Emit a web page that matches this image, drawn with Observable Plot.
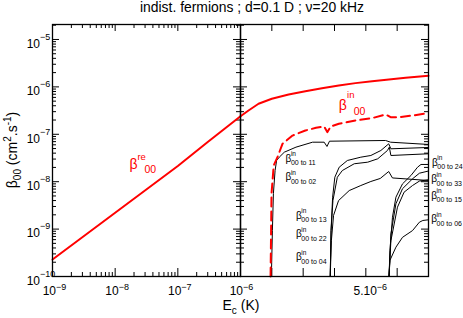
<!DOCTYPE html>
<html><head><meta charset="utf-8">
<script src="https://cdn.jsdelivr.net/npm/d3@7"></script>
<script src="https://cdn.jsdelivr.net/npm/@observablehq/plot@0.6"></script>
<style>
body{margin:0;background:#fff;font-family:"Liberation Sans",Arial,Helvetica,sans-serif;}
#wrap{position:relative;width:463px;height:318px;overflow:hidden;background:#fff;}
#wrap svg{position:absolute;top:0;}
.t{position:absolute;white-space:nowrap;color:#000;}
</style></head><body><div id="wrap"></div>
<script>
// ---------- data ----------
const titleText = "indist. fermions ; d=0.1 D ; ν=20 kHz";
// β^re_00, left (log) panel
const reE = [1e-9, 1e-8, 1e-7, 3e-7, 1e-6];
const reBeta = [2.28e-10, 2.22e-9, 2.15e-8, 6.9e-8, 2.4e-7];
// β^re_00, right (linear) panel
const re2E = [1.0e-6, 1.256e-6, 1.576e-6, 2.0e-6, 2.536e-6, 3.07e-6, 3.6e-6, 4.136e-6, 4.67e-6, 5.2e-6, 5.736e-6, 6.27e-6, 7.0e-6];
const re2Beta = [2.4e-7, 3.18e-7, 4.4e-7, 5.61e-7, 6.92e-7, 8.12e-7, 9.39e-7, 1.07e-6, 1.2e-6, 1.32e-6, 1.43e-6, 1.56e-6, 1.71e-6];
// β^in_00 (dashed)
const inE = [1.96e-6, 1.99e-6, 2.06e-6, 2.18e-6, 2.34e-6, 2.66e-6, 3.07e-6, 3.41e-6, 3.67e-6, 3.77e-6, 3.88e-6, 4.14e-6, 4.67e-6, 5.2e-6, 5.63e-6, 5.79e-6, 6.06e-6, 6.49e-6, 7.0e-6];
const inBeta = [1e-10, 5.6e-9, 2.2e-8, 3.29e-8, 6.3e-8, 9.4e-8, 1.2e-7, 1.37e-7, 1.46e-7, 1.11e-7, 1.46e-7, 1.67e-7, 1.96e-7, 2.19e-7, 2.62e-7, 2.3e-7, 2.3e-7, 2.49e-7, 2.79e-7];
// partial inelastic rates (black curves)
const c11E = [1.986e-6, 2.018e-6, 2.05e-6, 2.104e-6, 2.152e-6, 2.238e-6, 2.398e-6, 2.77e-6, 3.3e-6, 3.67e-6, 3.76e-6, 3.84e-6, 5.63e-6, 5.79e-6, 7.0e-6];
const c11B = [1e-10, 9.3e-10, 5.6e-9, 1.72e-8, 2.8e-8, 3.29e-8, 4.19e-8, 5.35e-8, 6.81e-8, 6.81e-8, 5.53e-8, 7.15e-8, 7.4e-8, 6.81e-8, 6.1e-8];
const cAE = [3.864e-6, 3.89e-6, 3.94e-6, 4.01e-6, 4.15e-6, 4.41e-6, 4.84e-6, 5.16e-6, 5.48e-6, 5.73e-6, 5.8e-6, 7.0e-6];
const cAB = [1e-10, 9.3e-10, 4.7e-9, 1.24e-8, 2.02e-8, 2.8e-8, 3.29e-8, 3.57e-8, 4.55e-8, 6.3e-8, 4.94e-8, 5.27e-8];
const cBE = [3.864e-6, 3.89e-6, 3.95e-6, 4.09e-6, 4.25e-6, 4.63e-6, 5.06e-6, 5.38e-6, 5.69e-6, 5.75e-6, 5.8e-6, 7.0e-6];
const cBB = [1e-10, 9.3e-10, 4.0e-9, 1.24e-8, 1.72e-8, 2.39e-8, 2.58e-8, 3.04e-8, 4.55e-8, 5.35e-8, 3.57e-8, 3.88e-8];
const cCE = [3.864e-6, 3.9e-6, 3.97e-6, 4.13e-6, 4.47e-6, 4.84e-6, 5.16e-6, 5.46e-6, 5.73e-6, 5.85e-6, 7.0e-6];
const cCB = [1e-10, 5.7e-10, 1.94e-9, 4.0e-9, 6.5e-9, 8.3e-9, 1.01e-8, 1.17e-8, 1.64e-8, 1.2e-8, 1.06e-8];
const cDE = [5.74e-6, 5.77e-6, 5.85e-6, 5.96e-6, 6.17e-6, 6.44e-6, 6.65e-6, 6.76e-6, 7.0e-6];
const cDB = [1e-10, 3.5e-10, 1.78e-9, 4.71e-9, 9.0e-9, 1.35e-8, 2.02e-8, 2.31e-8, 2.31e-8];
const cEE = [5.74e-6, 5.8e-6, 5.96e-6, 6.17e-6, 6.49e-6, 6.71e-6, 7.0e-6];
const cEB = [1e-10, 7.9e-10, 3.42e-9, 7.1e-9, 1.15e-8, 1.51e-8, 1.68e-8];
const cFE = [5.74e-6, 5.8e-6, 6.01e-6, 6.22e-6, 6.49e-6, 6.71e-6, 7.0e-6];
const cFB = [1e-10, 5.7e-10, 2.9e-9, 6.0e-9, 8.3e-9, 1.03e-8, 1.1e-8];
const cGE = [5.74e-6, 5.77e-6, 5.96e-6, 6.17e-6, 6.49e-6, 6.71e-6, 6.82e-6, 7.0e-6];
const cGB = [1e-10, 2.2e-10, 4.15e-10, 6.7e-10, 9.3e-10, 1.4e-9, 1.52e-9, 1.57e-9];
// curve labels
const blackLabelE = [2.44e-6, 2.44e-6, 2.77e-6, 2.77e-6, 2.77e-6, 7.11e-6, 7.09e-6, 7.09e-6, 7.09e-6];
const blackLabelB = [3.08e-8, 1.24e-8, 1.94e-9, 7.96e-10, 2.55e-10, 2.54e-8, 1.14e-8, 5.12e-9, 1.63e-9];
const blackLabelSub = ["00 to 11", "00 to 02", "00 to 13", "00 to 22", "00 to 04", "00 to 24", "00 to 33", "00 to 15", "00 to 06"];
const reLabel = {E: 1.69e-8, b: 2.25e-8, sup: "re", sub: "00"};
const inLabel = {E: 4.136e-6, b: 4.06e-7, sup: "in", sub: "00"};
// axis ticks and labels
const yMajor = [1e-10, 1e-9, 1e-8, 1e-7, 1e-6, 1e-5];
const ySup = ["−10", "−9", "−8", "−7", "−6", "−5"];
const xMajorL = [1e-9, 1e-8, 1e-7, 1e-6];
const xSupL = ["−9", "−8", "−7"];
const xMajorR = [1e-6, 2e-6, 3e-6, 4e-6, 5e-6, 6e-6, 7e-6];
const xLabR = [{v: 1e-6, main: "10", sup: "−6"}, {v: 5e-6, main: "5.10", sup: "−6"}];
const mult = [2, 3, 4, 5, 6, 7, 8, 9];
const yMinor = [-10, -9, -8, -7, -6, -5].flatMap(k => mult.map(m => m * 10 ** k)).filter(v => v < 2.07e-5);
const xMinorL = [-9, -8, -7].flatMap(k => mult.map(m => m * 10 ** k));

// ---------- helpers ----------
const FONT = '"Liberation Sans", Arial, Helvetica, sans-serif';
const FW = 188, FH = 252;
const pts = (E, B) => E.map((e, i) => ({E: e, b: B[i]}));
const yDom = [1e-10, 2.07e-5];
const tickS = {stroke: "#000", strokeWidth: 1};
const yTickMarks = () => [
  Plot.tickY(yMajor, {y: d => d, insetRight: FW - 7, ...tickS}),
  Plot.tickY(yMinor, {y: d => d, insetRight: FW - 4, ...tickS}),
  Plot.tickY(yMajor, {y: d => d, insetLeft: FW - 7, ...tickS}),
  Plot.tickY(yMinor, {y: d => d, insetLeft: FW - 4, ...tickS})
];
const xTickMarks = (maj, min) => [
  Plot.tickX(maj, {x: d => d, insetTop: FH - 8, ...tickS}),
  Plot.tickX(maj, {x: d => d, insetBottom: FH - 7, ...tickS}),
  ...(min ? [Plot.tickX(min, {x: d => d, insetTop: FH - 4, ...tickS}),
             Plot.tickX(min, {x: d => d, insetBottom: FH - 4, ...tickS})] : [])
];
const labelMarks = (lab, color, big, sup, sub, supDx, subDx, supDy, subDy) => [
  Plot.text([lab], {x: "E", y: "b", text: () => "β", fill: color, fontSize: big, textAnchor: "start", lineAnchor: "middle"}),
  Plot.text([lab], {x: "E", y: "b", text: "sup", fill: color, fontSize: sup, textAnchor: "start", lineAnchor: "middle", dx: supDx, dy: supDy}),
  Plot.text([lab], {x: "E", y: "b", text: "sub", fill: color, fontSize: sub, textAnchor: "start", lineAnchor: "middle", dx: subDx, dy: subDy})
];
const styleObj = {fontFamily: FONT, background: "transparent", overflow: "visible", color: "#000"};

// ---------- left panel (log x) ----------
const left = Plot.plot({
  width: 241, height: 318, marginLeft: 52, marginRight: 1, marginTop: 24, marginBottom: 42,
  style: styleObj,
  x: {type: "log", domain: [1e-9, 1e-6], axis: null},
  y: {type: "log", domain: yDom, axis: null},
  marks: [
    ...yTickMarks(),
    ...xTickMarks(xMajorL, xMinorL),
    Plot.line(pts(reE, reBeta), {x: "E", y: "b", stroke: "#ff0000", strokeWidth: 2}),
    ...labelMarks(reLabel, "#ff0000", 14, 9.5, 10.5, 8, 15, -8, 5),
    Plot.text(yMajor, {y: d => d, frameAnchor: "left", text: () => "10", textAnchor: "end", lineAnchor: "middle", dx: -12.5, dy: 4.5, fontSize: 12}),
    Plot.text(yMajor, {y: d => d, frameAnchor: "left", text: (d, i) => ySup[i], textAnchor: "start", lineAnchor: "middle", dx: -12.5, dy: -2.5, fontSize: 9}),
    Plot.text(xMajorL.slice(0, 3), {x: d => d, frameAnchor: "bottom", text: () => "10", textAnchor: "end", lineAnchor: "middle", dx: 3.5, dy: 15, fontSize: 12}),
    Plot.text(xMajorL.slice(0, 3), {x: d => d, frameAnchor: "bottom", text: (d, i) => xSupL[i], textAnchor: "start", lineAnchor: "middle", dx: 3.5, dy: 10.5, fontSize: 9}),
    Plot.frame({stroke: "#000", strokeWidth: 1.3})
  ]
});

// ---------- right panel (linear x) ----------
const blackCurves = [[c11E, c11B], [cAE, cAB], [cBE, cBB], [cCE, cCB], [cDE, cDB], [cEE, cEB], [cFE, cFB], [cGE, cGB]];
const blackLabels = blackLabelE.map((e, i) => ({E: e, b: blackLabelB[i], sup: "in", sub: blackLabelSub[i]}));
const labOff = [2.5, 11];
const right = Plot.plot({
  width: 224, height: 318, marginLeft: 1, marginRight: 35, marginTop: 24, marginBottom: 42,
  style: styleObj,
  x: {type: "linear", domain: [1e-6, 7e-6], axis: null},
  y: {type: "log", domain: yDom, axis: null},
  marks: [
    ...yTickMarks(),
    ...xTickMarks(xMajorR, null),
    ...blackCurves.map(([E, B]) => Plot.line(pts(E, B), {x: "E", y: "b", stroke: "#000", strokeWidth: 1})),
    Plot.line(pts(re2E, re2Beta), {x: "E", y: "b", stroke: "#ff0000", strokeWidth: 2}),
    Plot.line(pts(inE, inBeta), {x: "E", y: "b", stroke: "#ff0000", strokeWidth: 2, strokeDasharray: "9,5"}),
    ...labelMarks(inLabel, "#ff0000", 14, 9.5, 10.5, 8.3, 15, -10, 6),
    Plot.text(blackLabels, {x: "E", y: "b", text: () => "β", fill: "#000", fontSize: 10, textAnchor: "start", lineAnchor: "middle"}),
    Plot.text(blackLabels, {x: "E", y: "b", text: "sup", fill: "#000", fontSize: 6.5, textAnchor: "start", lineAnchor: "middle", dx: 5.3, dy: -4.3}),
    Plot.text(blackLabels, {x: "E", y: "b", text: "sub", fill: "#000", fontSize: 7, textAnchor: "start", lineAnchor: "middle", dx: 5.3, dy: 4.6}),
    ...xLabR.flatMap((d, i) => [
      Plot.text([d], {x: "v", frameAnchor: "bottom", text: "main", textAnchor: "end", lineAnchor: "middle", dx: labOff[i], dy: 15, fontSize: 12}),
      Plot.text([d], {x: "v", frameAnchor: "bottom", text: "sup", textAnchor: "start", lineAnchor: "middle", dx: labOff[i], dy: 10.5, fontSize: 9})
    ]),
    Plot.frame({stroke: "#000", strokeWidth: 1.3})
  ]
});
const wrap = document.getElementById("wrap");
left.style.left = "0px";
right.style.left = "239px";
wrap.appendChild(left);
wrap.appendChild(right);

// ---------- titles ----------
const title = document.createElement("div");
title.className = "t";
title.style.cssText = "left:140px;top:0px;font-size:13.9px;line-height:14px;";
title.textContent = titleText;
wrap.appendChild(title);

const xt = document.createElement("div");
xt.className = "t";
xt.style.cssText = "left:222.5px;top:298px;font-size:14px;line-height:14px;";
xt.innerHTML = 'E<span style="font-size:10px;position:relative;top:4px">c</span> (K)';
wrap.appendChild(xt);

const yt = document.createElement("div");
yt.className = "t";
yt.style.cssText = "left:12.5px;top:150px;font-size:14px;line-height:14px;transform:translate(-50%,-50%) rotate(-90deg);";
yt.innerHTML = 'β<span style="font-size:10px;position:relative;top:4px">00</span> (cm<span style="font-size:10px;position:relative;top:-6px">2</span>.s<span style="font-size:10px;position:relative;top:-6px">-1</span>)';
wrap.appendChild(yt);
</script></body></html>
